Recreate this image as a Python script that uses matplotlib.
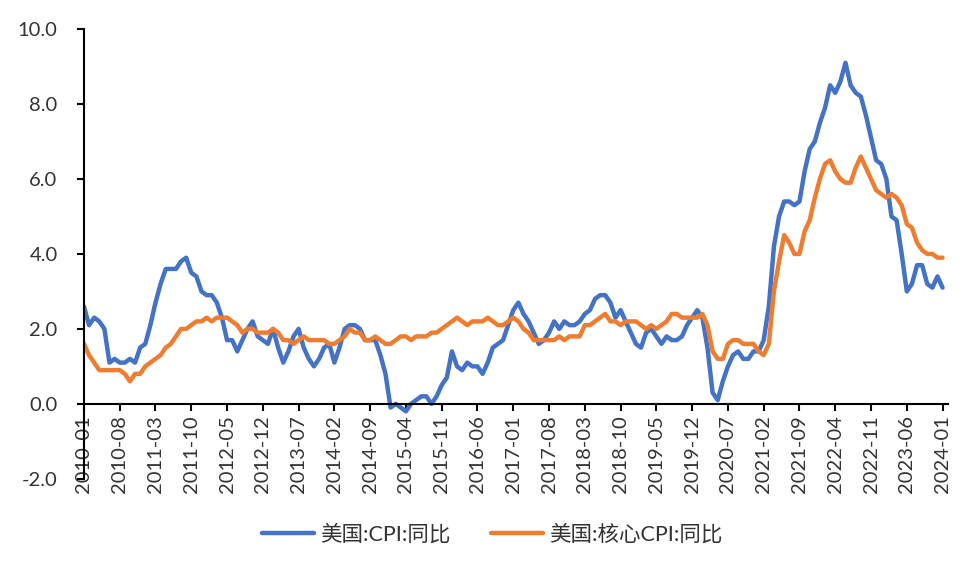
import matplotlib.pyplot as plt
import pandas as pd

plt.rcParams['font.family'] = ['Lato', 'Noto Sans CJK SC', 'DejaVu Sans']

months = pd.period_range("2010-01", "2024-01", freq="M").strftime("%Y-%m").tolist()

cpi = [2.6, 2.1, 2.3, 2.2, 2.0, 1.1, 1.2, 1.1, 1.1, 1.2, 1.1, 1.5,
       1.6, 2.1, 2.7, 3.2, 3.6, 3.6, 3.6, 3.8, 3.9, 3.5, 3.4, 3.0,
       2.9, 2.9, 2.7, 2.3, 1.7, 1.7, 1.4, 1.7, 2.0, 2.2, 1.8, 1.7,
       1.6, 2.0, 1.5, 1.1, 1.4, 1.8, 2.0, 1.5, 1.2, 1.0, 1.2, 1.5,
       1.6, 1.1, 1.5, 2.0, 2.1, 2.1, 2.0, 1.7, 1.7, 1.7, 1.3, 0.8,
       -0.1, 0.0, -0.1, -0.2, 0.0, 0.1, 0.2, 0.2, 0.0, 0.2, 0.5, 0.7,
       1.4, 1.0, 0.9, 1.1, 1.0, 1.0, 0.8, 1.1, 1.5, 1.6, 1.7, 2.1,
       2.5, 2.7, 2.4, 2.2, 1.9, 1.6, 1.7, 1.9, 2.2, 2.0, 2.2, 2.1,
       2.1, 2.2, 2.4, 2.5, 2.8, 2.9, 2.9, 2.7, 2.3, 2.5, 2.2, 1.9,
       1.6, 1.5, 1.9, 2.0, 1.8, 1.6, 1.8, 1.7, 1.7, 1.8, 2.1, 2.3,
       2.5, 2.3, 1.5, 0.3, 0.1, 0.6, 1.0, 1.3, 1.4, 1.2, 1.2, 1.4,
       1.4, 1.7, 2.6, 4.2, 5.0, 5.4, 5.4, 5.3, 5.4, 6.2, 6.8, 7.0,
       7.5, 7.9, 8.5, 8.3, 8.6, 9.1, 8.5, 8.3, 8.2, 7.7, 7.1, 6.5,
       6.4, 6.0, 5.0, 4.9, 4.0, 3.0, 3.2, 3.7, 3.7, 3.2, 3.1, 3.4,
       3.1]

core_cpi = [1.6, 1.3, 1.1, 0.9, 0.9, 0.9, 0.9, 0.9, 0.8, 0.6, 0.8, 0.8,
            1.0, 1.1, 1.2, 1.3, 1.5, 1.6, 1.8, 2.0, 2.0, 2.1, 2.2, 2.2,
            2.3, 2.2, 2.3, 2.3, 2.3, 2.2, 2.1, 1.9, 2.0, 2.0, 1.9, 1.9,
            1.9, 2.0, 1.9, 1.7, 1.7, 1.6, 1.7, 1.8, 1.7, 1.7, 1.7, 1.7,
            1.6, 1.6, 1.7, 1.8, 2.0, 1.9, 1.9, 1.7, 1.7, 1.8, 1.7, 1.6,
            1.6, 1.7, 1.8, 1.8, 1.7, 1.8, 1.8, 1.8, 1.9, 1.9, 2.0, 2.1,
            2.2, 2.3, 2.2, 2.1, 2.2, 2.2, 2.2, 2.3, 2.2, 2.1, 2.1, 2.2,
            2.3, 2.2, 2.0, 1.9, 1.7, 1.7, 1.7, 1.7, 1.7, 1.8, 1.7, 1.8,
            1.8, 1.8, 2.1, 2.1, 2.2, 2.3, 2.4, 2.2, 2.2, 2.1, 2.2, 2.2,
            2.2, 2.1, 2.0, 2.1, 2.0, 2.1, 2.2, 2.4, 2.4, 2.3, 2.3, 2.3,
            2.3, 2.4, 2.1, 1.4, 1.2, 1.2, 1.6, 1.7, 1.7, 1.6, 1.6, 1.6,
            1.4, 1.3, 1.6, 3.0, 3.8, 4.5, 4.3, 4.0, 4.0, 4.6, 4.9, 5.5,
            6.0, 6.4, 6.5, 6.2, 6.0, 5.9, 5.9, 6.3, 6.6, 6.3, 6.0, 5.7,
            5.6, 5.5, 5.6, 5.5, 5.3, 4.8, 4.7, 4.3, 4.1, 4.0, 4.0, 3.9,
            3.9]

x = list(range(len(months)))

fig = plt.figure(figsize=(9.76, 5.70), dpi=100)
ax = fig.add_axes([0.086, 0.16, 0.885, 0.789])

ax.spines["top"].set_visible(False)
ax.spines["right"].set_visible(False)
ax.spines["bottom"].set_position(("data", 0))
for sp in ax.spines.values():
    sp.set_color("black")
    sp.set_linewidth(1.5)

ax.plot(x, cpi, color="#4472C4", lw=3.2, label="美国:CPI:同比", solid_capstyle="round")
ax.plot(x, core_cpi, color="#ED7D31", lw=3.2, label="美国:核心CPI:同比", solid_capstyle="round")

ax.set_xlim(0, 169)
ax.set_ylim(-2, 10)
ax.set_yticks([-2, 0, 2, 4, 6, 8, 10])
ax.set_yticklabels(["%.1f" % v for v in [-2, 0, 2, 4, 6, 8, 10]])
ax.set_xticks(x[::7])
ax.set_xticklabels(months[::7])

ax.tick_params(axis="both", direction="out", length=5, width=1.5, labelsize=14.5,
               color="black", labelcolor="#333333")
ax.tick_params(axis="x", pad=3, labelrotation=90)
ax.tick_params(axis="y", pad=14)

ax.legend(loc="center", bbox_to_anchor=(0.473, -0.123), ncol=2, frameon=False,
          fontsize=15.5, handlelength=2.4, columnspacing=1.9, handletextpad=0.3,
          labelcolor="#333333")

fig.savefig("out.png", dpi=100)
